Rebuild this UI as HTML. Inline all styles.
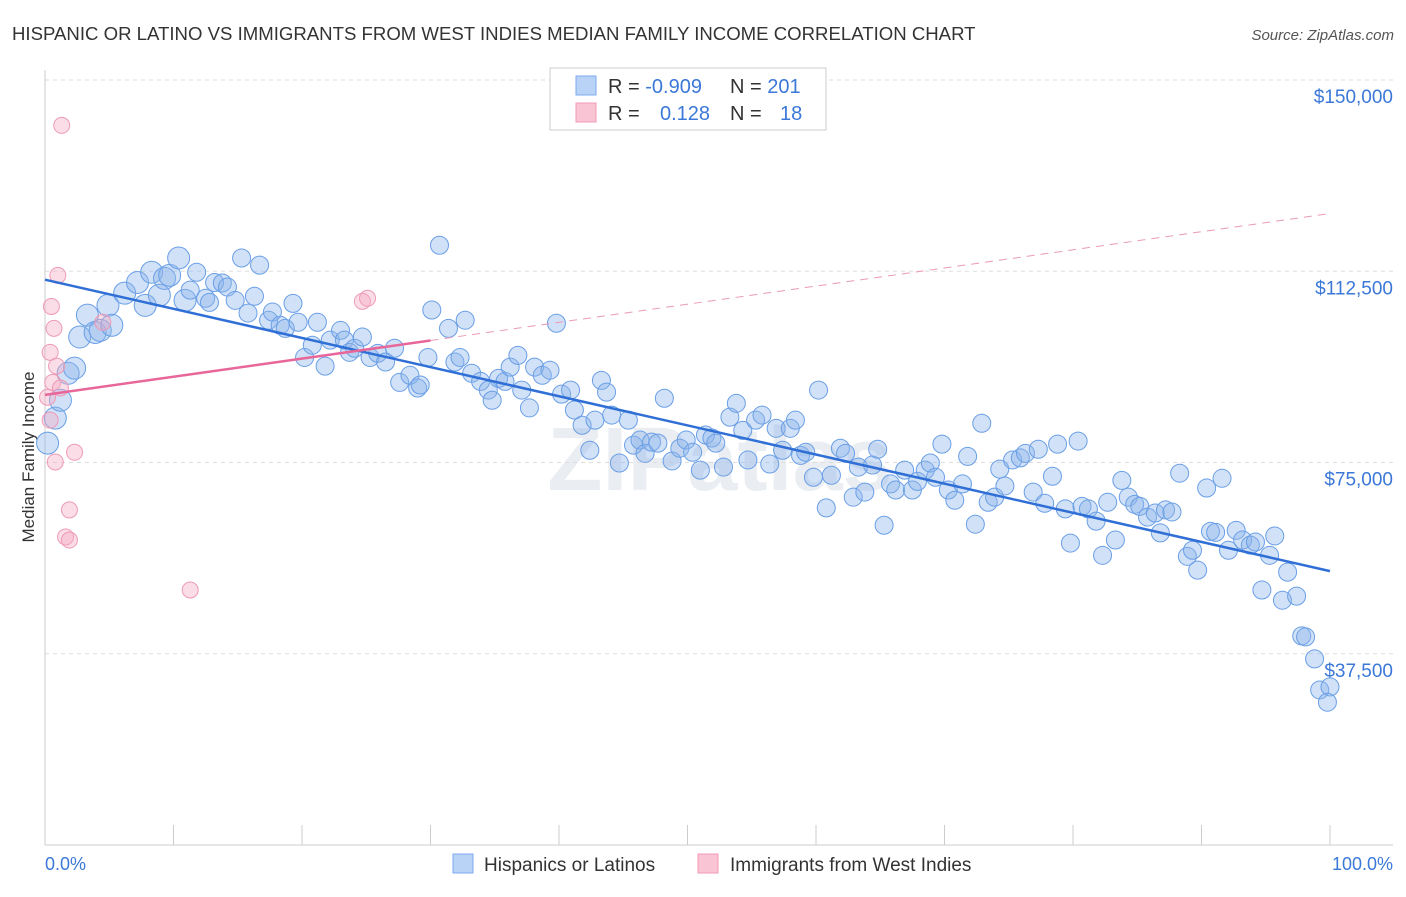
<!DOCTYPE html>
<html><head><meta charset="utf-8"><style>
body{margin:0;background:#fff;font-family:"Liberation Sans",sans-serif;}
svg text{font-family:"Liberation Sans",sans-serif;}
</style></head><body>
<svg id="c" width="1406" height="892" xmlns="http://www.w3.org/2000/svg">
<text x="12" y="40" font-size="18.6" fill="#333">HISPANIC OR LATINO VS IMMIGRANTS FROM WEST INDIES MEDIAN FAMILY INCOME CORRELATION CHART</text>
<text x="1394" y="40" font-size="15" fill="#555" font-style="italic" text-anchor="end">Source: ZipAtlas.com</text>
<text x="720" y="490" font-size="90" fill="#eaedf2" text-anchor="middle" font-weight="bold" font-family="Liberation Serif">ZIPatlas</text>
<g id="grid"></g>
<line x1="45" y1="70" x2="45" y2="845" stroke="#ccc"/>
<line x1="45" y1="845" x2="1393" y2="845" stroke="#ccc"/>
<g id="ticks"></g>
<text transform="translate(34,457) rotate(-90)" font-size="17" fill="#333" text-anchor="middle">Median Family Income</text>
<text x="45" y="870" font-size="18" fill="#3b78d8">0.0%</text>
<text x="1393" y="870" font-size="18" fill="#3b78d8" text-anchor="end">100.0%</text>
<g id="pts"></g>
<g id="lines"></g>
<g>
<rect x="550" y="68" width="276" height="62" fill="#fff" stroke="#ccc"/>
<rect x="576" y="76" width="20" height="19" fill="#b8d3f5" stroke="#7eaaf0"/>
<rect x="576" y="103" width="20" height="19" fill="#f9c5d4" stroke="#f29ab4"/>
<text x="608" y="93" font-size="20" fill="#333">R = <tspan fill="#3b78d8">-0.909</tspan><tspan x="730">N = </tspan><tspan fill="#3b78d8">201</tspan></text>
<text x="608" y="120" font-size="20" fill="#333">R = <tspan x="660" fill="#3b78d8">0.128</tspan><tspan x="730">N = </tspan><tspan x="780" fill="#3b78d8">18</tspan></text>
</g>
<g>
<rect x="453" y="854" width="20" height="19" fill="#b8d3f5" stroke="#7eaaf0"/>
<text x="484" y="871" font-size="19" fill="#333">Hispanics or Latinos</text>
<rect x="698" y="854" width="20" height="19" fill="#f9c5d4" stroke="#f29ab4"/>
<text x="730" y="871" font-size="19" fill="#333">Immigrants from West Indies</text>
</g>
</svg>
<script>
const yTicks=[37500,75000,112500,150000];
const yTickLabels=["$37,500","$75,000","$112,500","$150,000"];
const blueX=[0.2,0.8,1.2,1.8,2.3,2.7,3.3,3.9,4.3,4.9,5.2,6.2,7.2,7.8,8.3,8.9,9.3,9.7,10.4,10.9,11.3,11.8,12.5,12.8,13.2,13.8,14.2,14.8,15.3,15.8,16.3,16.7,17.4,17.7,18.3,18.7,19.3,19.7,20.2,20.8,21.2,21.8,22.2,23.0,23.3,23.7,24.1,24.7,25.3,25.9,26.5,27.2,27.6,28.4,29.0,29.2,29.8,30.1,30.7,31.4,31.9,32.3,32.7,33.2,33.9,34.5,34.8,35.3,35.8,36.2,36.8,37.1,37.7,38.1,38.7,39.3,39.8,40.2,40.9,41.2,41.8,42.4,42.8,43.3,43.7,44.1,44.7,45.4,45.8,46.3,46.7,47.2,47.7,48.2,48.8,49.4,49.9,50.4,51.0,51.4,51.9,52.2,52.8,53.3,53.8,54.3,54.7,55.3,55.8,56.4,56.9,57.4,58.0,58.4,58.8,59.2,59.8,60.2,60.8,61.2,61.9,62.3,62.9,63.3,63.8,64.4,64.8,65.3,65.8,66.2,66.9,67.5,67.9,68.5,68.9,69.3,69.8,70.3,70.8,71.4,71.8,72.4,72.9,73.4,73.9,74.3,74.7,75.3,75.9,76.3,76.9,77.3,77.8,78.4,78.8,79.4,79.8,80.4,80.7,81.2,81.8,82.3,82.7,83.3,83.8,84.3,84.8,85.2,85.8,86.4,86.8,87.2,87.7,88.3,88.9,89.3,89.7,90.4,90.7,91.1,91.6,92.1,92.7,93.2,93.8,94.2,94.7,95.3,95.7,96.3,96.7,97.4,97.8,98.1,98.8,99.2,100.0,99.8];
const blueIncomeK=[78.8,83.7,87.2,92.5,93.5,99.6,103.9,100.5,100.9,105.8,101.9,108.2,110.3,105.8,112.3,107.8,111.1,111.7,115.1,106.8,108.8,112.3,107.2,106.4,110.3,110.2,109.4,106.8,115.1,104.3,107.6,113.7,102.9,104.5,101.9,101.3,106.2,102.5,95.6,98.0,102.5,93.9,99.0,100.9,99.0,96.6,97.4,99.6,95.6,96.4,94.7,97.4,90.7,92.1,89.6,90.2,95.6,104.9,117.6,101.3,94.7,95.6,102.9,92.5,90.9,89.2,87.2,91.5,90.9,93.7,96.0,89.2,85.7,93.7,92.1,93.1,102.3,88.4,89.2,85.3,82.3,77.4,83.3,91.1,88.8,84.3,74.9,83.3,78.4,79.4,76.8,79.0,78.8,87.6,75.3,77.8,79.4,77.0,73.5,80.4,79.8,78.8,74.1,83.9,86.6,81.3,75.5,83.3,84.3,74.7,81.7,77.4,81.7,83.3,76.4,77.0,72.1,89.2,66.1,72.5,77.8,76.8,68.2,74.1,69.2,74.5,77.6,62.7,70.8,69.6,73.5,69.6,71.3,73.5,74.9,72.1,78.6,69.6,67.6,70.8,76.2,62.9,82.7,67.2,68.2,73.7,70.4,75.5,75.9,76.8,69.2,77.6,67.0,72.3,78.6,65.9,59.2,79.2,66.4,65.9,63.5,56.8,67.2,59.8,71.5,68.2,66.8,66.4,64.3,65.1,61.2,65.7,65.3,72.9,56.6,57.8,53.9,70.0,61.5,61.3,71.9,57.8,61.7,59.8,58.8,59.4,50.0,56.8,60.6,48.0,53.5,48.8,41.0,40.8,36.5,30.4,31.0,28.0];
const pinkX=[1.3,1.0,0.5,0.7,0.4,0.9,0.6,1.2,0.2,0.4,0.8,2.3,1.9,1.6,1.9,11.3,24.7,25.1,4.5];
const pinkIncomeK=[141.1,111.7,105.6,101.3,96.6,93.9,90.7,89.6,87.8,83.3,75.1,77.0,65.7,60.4,59.8,50.0,106.6,107.2,102.5];

const NS="http://www.w3.org/2000/svg";
const X0=45,X1=1330,Y0=845,Y1=80;
const xs=p=>X0+(X1-X0)*p/100;
const ys=v=>Y0-(Y0-Y1)*v/150000;
function mk(tag,attrs,parent){const e=document.createElementNS(NS,tag);for(const k in attrs)e.setAttribute(k,attrs[k]);document.getElementById(parent).appendChild(e);return e;}
yTicks.forEach((t,i)=>{
  const l=mk('line',{x1:45,x2:1393,y1:ys(t),y2:ys(t),stroke:'#ddd','stroke-dasharray':'4,4'},'grid');
  
  
  const tx=mk('text',{x:1393,y:ys(t)+23,'font-size':19,fill:'#3b78d8','text-anchor':'end'},'grid');
  tx.textContent=yTickLabels[i];
  
  
});
for(let i=0;i<=10;i++){
  const t=mk('line',{x1:xs(i*10),x2:xs(i*10),y1:825,y2:845,stroke:'#ccc'},'ticks');
  
  
}
blueX.forEach((x,i)=>{
  const c=mk('circle',{cx:xs(x),cy:ys(blueIncomeK[i]*1000),r:i<20?11:9,fill:'rgba(140,180,235,0.4)',stroke:'#6a9fe6','stroke-width':1},'pts');
  
  
});
pinkX.forEach((x,i)=>{
  const c=mk('circle',{cx:xs(x),cy:ys(pinkIncomeK[i]*1000),r:8,fill:'rgba(245,170,195,0.4)',stroke:'#ee9bb5','stroke-width':1},'pts');
  
  
});
function fit(X,Y){const n=X.length;let mx=0,my=0;X.forEach((x,i)=>{mx+=x;my+=Y[i];});mx/=n;my/=n;let sxy=0,sxx=0;X.forEach((x,i)=>{sxy+=(x-mx)*(Y[i]-my);sxx+=(x-mx)*(x-mx);});const b=sxy/sxx;return [my-b*mx,b];}
const bf=fit(blueX,blueIncomeK);
const bl=mk('line',{x1:xs(0),y1:ys(bf[0]*1000),x2:xs(100),y2:ys((bf[0]+bf[1]*100)*1000),stroke:'#2f6fd6','stroke-width':2.5},'lines');


const pf=fit(pinkX,pinkIncomeK);
const pl=mk('line',{x1:xs(0),y1:ys(pf[0]*1000),x2:xs(30),y2:ys((pf[0]+pf[1]*30)*1000),stroke:'#e8679a','stroke-width':2.5},'lines');


const pd=mk('line',{x1:xs(30),y1:ys((pf[0]+pf[1]*30)*1000),x2:xs(100),y2:ys((pf[0]+pf[1]*100)*1000),stroke:'#eb9ab5','stroke-width':1,'stroke-dasharray':'8,6'},'lines');


</script>
</body></html>
